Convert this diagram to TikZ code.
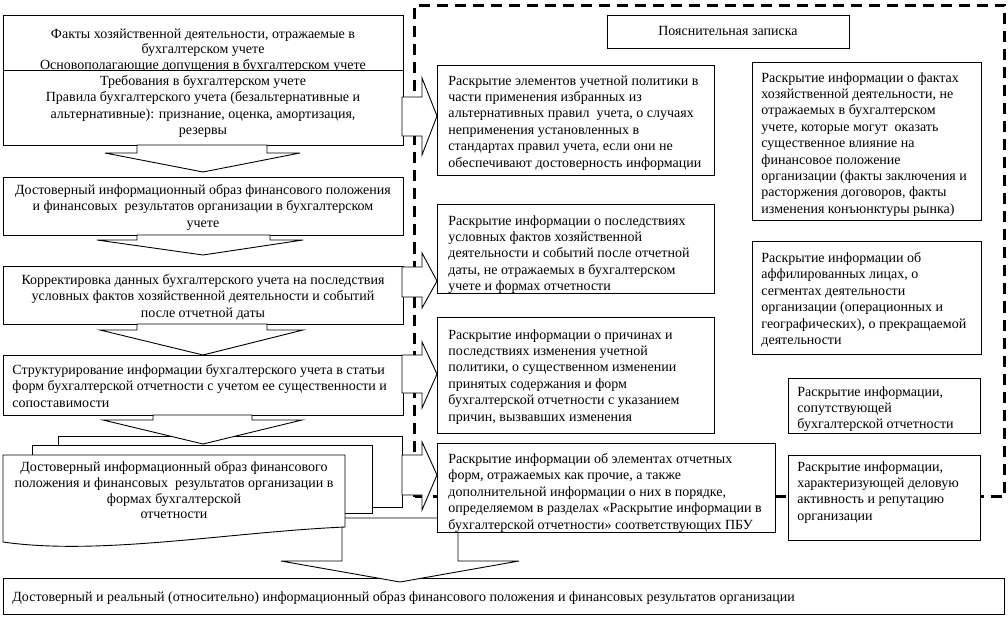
\documentclass[tikz,border=0pt]{standalone}
\usepackage{fontspec}
\setmainfont{Liberation Serif}
\newcommand\myfs{\fontsize{14}{16.4}\selectfont}
\newcommand\myfsb{\fontsize{14}{15.5}\selectfont}
\newcommand\myfsc{\fontsize{14}{15.8}\selectfont}
\begin{document}
\begin{tikzpicture}[x=1pt,y=-1pt,line width=0.9pt,
  box/.style={draw,fill=white,inner sep=0pt,anchor=north west},
  tl/.style={inner sep=0pt,anchor=north west,align=left,font=\myfs},
  tc/.style={inner sep=0pt,anchor=north,align=center,font=\myfs},
  blk/.style={draw,fill=white,line join=miter},
  frame/.style={draw,line width=3pt,dash pattern=on 11pt off 7pt,inner sep=0pt,anchor=north west}]
\useasboundingbox (0,0) rectangle (1008,617);
% dashed frame of the explanatory note
\node[frame,minimum width=590pt,minimum height=491pt] (frm) at (413,4) {};
% bottom box
\node[box,minimum width=1001pt,minimum height=36pt] (fin) at (3,578) {};
\node[tl] (fint) at (12,591) {Достоверный и реальный (относительно) информационный образ финансового положения и финансовых результатов организации};
% arrow to bottom box
\draw[blk] (342,518) -- (342,561) -- (281,561) -- (400,582) -- (519,561) -- (458,561) -- (458,518) -- cycle;
% left column
\node[box,minimum width=400pt,minimum height=55pt] (f1) at (3,15) {};
\node[tc,font=\myfsb] (f1t) at (203,28) {Факты хозяйственной деятельности, отражаемые в\\бухгалтерском учете\\Основополагающие допущения в бухгалтерском учете};
\node[box,minimum width=400pt,minimum height=75pt] (f2) at (3,70) {};
\node[tc] (f2t) at (203,75) {Требования в бухгалтерском учете\\Правила бухгалтерского учета (безальтернативные и\\альтернативные): признание, оценка, амортизация,\\резервы};
\node[box,minimum width=400pt,minimum height=58pt] (f3) at (3,177) {};
\node[tc] (f3t) at (203,184) {Достоверный информационный образ финансового положения\\и финансовых\ \ результатов организации в бухгалтерском\\учете};
\node[box,minimum width=400pt,minimum height=58pt] (f4) at (3,266) {};
\node[tc] (f4t) at (203,274) {Корректировка данных бухгалтерского учета на последствия\\условных фактов хозяйственной деятельности и событий\\после отчетной даты};
\node[box,minimum width=400pt,minimum height=60pt] (f5) at (3,355) {};
\node[tl] (f5t) at (12,364) {Структурирование информации бухгалтерского учета в статьи\\форм бухгалтерской отчетности с учетом ее существенности и\\сопоставимости};
% down arrows
\draw[blk] (137,145) -- (137,153) -- (105,153) -- (203,172) -- (300,153) -- (267,153) -- (267,145) -- cycle;
\draw[blk] (137,235) -- (137,240) -- (97,240) -- (203,255) -- (303,240) -- (270,240) -- (270,235) -- cycle;
\draw[blk] (137,324) -- (137,330) -- (100,330) -- (203,355) -- (303,330) -- (267,330) -- (267,324) -- cycle;
% multi-document
\node[box,minimum width=344pt,minimum height=71pt] (docA) at (58,436) {};
\node[box,minimum width=340pt,minimum height=68pt] (docB) at (32,445) {};
\coordinate (docC) at (3,455);
\draw[fill=white] (docC) -- (345,455) -- (345,527) .. controls (230,532) and (100,556) .. (3,542) -- cycle;
\node[tc,font=\myfsc] (docCt) at (174,461) {Достоверный информационный образ финансового\\положения и финансовых\ \ результатов организации в\\формах бухгалтерской\\отчетности};
\draw[blk] (153,415) -- (153,420) -- (103,420) -- (203,444) -- (302,420) -- (252,420) -- (252,415) -- cycle;
% middle column
\node[box,minimum width=277pt,minimum height=110pt] (b1) at (437,65) {};
\node[tl] (b1t) at (448,75) {Раскрытие элементов учетной политики в\\части применения избранных из\\альтернативных правил\ \ учета, о случаях\\неприменения установленных в\\стандартах правил учета, если они не\\обеспечивают достоверность информации};
\node[box,minimum width=277pt,minimum height=89pt] (b2) at (437,204) {};
\node[tl] (b2t) at (448,215) {Раскрытие информации о последствиях\\условных фактов хозяйственной\\деятельности и событий после отчетной\\даты, не отражаемых в бухгалтерском\\учете и формах отчетности};
\node[box,minimum width=277pt,minimum height=116pt] (b3) at (437,317) {};
\node[tl] (b3t) at (448,329) {Раскрытие информации о причинах и\\последствиях изменения учетной\\политики, о существенном изменении\\принятых содержания и форм\\бухгалтерской отчетности с указанием\\причин, вызвавших изменения};
\node[box,minimum width=338pt,minimum height=89pt] (b4) at (437,443) {};
\node[tl] (b4t) at (448,453) {Раскрытие информации об элементах отчетных\\форм, отражаемых как прочие, а также\\дополнительной информации о них в порядке,\\определяемом в разделах «Раскрытие информации в\\бухгалтерской отчетности» соответствующих ПБУ};
% right column
\node[box,minimum width=242pt,minimum height=33pt] (pz) at (607,15) {};
\node[tc] (pzt) at (728,26) {Пояснительная записка};
\node[box,minimum width=229pt,minimum height=158pt] (r1) at (752,62) {};
\node[tl] (r1t) at (761,72) {Раскрытие информации о фактах\\хозяйственной деятельности, не\\отражаемых в бухгалтерском\\учете, которые могут\ \ оказать\\существенное влияние на\\финансовое положение\\организации (факты заключения и\\расторжения договоров, факты\\изменения конъюнктуры рынка)};
\node[box,minimum width=229pt,minimum height=113pt] (r2) at (752,241) {};
\node[tl] (r2t) at (761,252) {Раскрытие информации об\\аффилированных лицах, о\\сегментах деятельности\\организации (операционных и\\географических), о прекращаемой\\деятельности};
\node[box,minimum width=192pt,minimum height=55pt] (r3) at (788,378) {};
\node[tl] (r3t) at (797,386) {Раскрытие информации,\\сопутствующей\\бухгалтерской отчетности};
\node[box,minimum width=192pt,minimum height=85pt] (r4) at (788,455) {};
\node[tl] (r4t) at (797,461) {Раскрытие информации,\\характеризующей деловую\\активность и репутацию\\организации};
% right arrows
\draw[blk] (402,97) -- (422,97) -- (422,78) -- (437,116) -- (422,155) -- (422,136) -- (402,136) -- cycle;
\draw[blk] (402,267) -- (422,267) -- (422,253) -- (437,281) -- (422,308) -- (422,297) -- (402,297) -- cycle;
\draw[blk] (402,355) -- (422,355) -- (422,342) -- (437,374) -- (422,408) -- (422,393) -- (402,393) -- cycle;
\draw[blk] (402,455) -- (422,455) -- (422,442) -- (437,475) -- (422,510) -- (422,495) -- (402,495) -- cycle;
\end{tikzpicture}
\end{document}
